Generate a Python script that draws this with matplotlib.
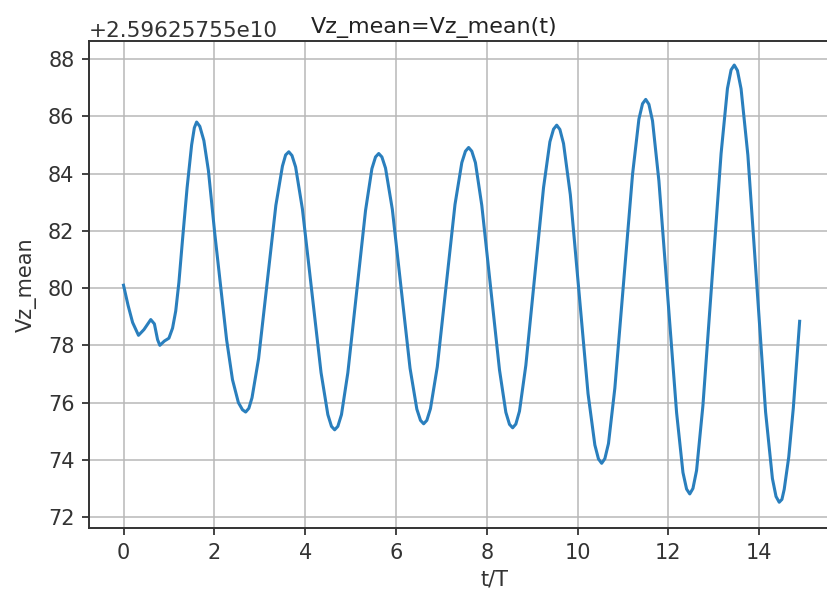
import matplotlib
matplotlib.use("Agg")
import matplotlib.pyplot as plt
from matplotlib.ticker import ScalarFormatter

OFFSET = 2.59625755e10

t_values = [
    0.00, 0.10, 0.20, 0.33, 0.45, 0.60, 0.68, 0.75, 0.80, 0.90, 1.00, 1.08, 1.15, 1.22, 1.30, 1.40, 1.50, 1.56, 1.61,
    1.68, 1.77, 1.87, 2.01, 2.15, 2.27, 2.40, 2.53, 2.62, 2.69,
    2.76, 2.83, 2.975, 3.165, 3.355, 3.50, 3.57, 3.64,
    3.71, 3.79, 3.94, 4.145, 4.35, 4.50, 4.58, 4.65,
    4.72, 4.80, 4.94, 5.135, 5.33, 5.47, 5.55, 5.62,
    5.69, 5.77, 5.92, 6.115, 6.31, 6.46, 6.54, 6.61,
    6.68, 6.76, 6.91, 7.105, 7.30, 7.45, 7.53, 7.60,
    7.67, 7.75, 7.89, 8.085, 8.28, 8.42, 8.50, 8.57,
    8.64, 8.72, 8.86, 9.055, 9.25, 9.39, 9.47, 9.54,
    9.61, 9.69, 9.84, 10.035, 10.23, 10.38, 10.46, 10.53,
    10.60, 10.68, 10.82, 11.015, 11.21, 11.35, 11.43, 11.50,
    11.57, 11.65, 11.79, 11.985, 12.18, 12.32, 12.40, 12.47,
    12.54, 12.62, 12.76, 12.96, 13.16, 13.30, 13.38, 13.45,
    13.52, 13.60, 13.75, 13.945, 14.14, 14.29, 14.37, 14.44,
    14.50, 14.55, 14.65, 14.75, 14.82, 14.89,
]

vz_values = [
    80.10, 79.40, 78.80, 78.35, 78.55, 78.90, 78.75, 78.20, 78.00, 78.15, 78.25, 78.60, 79.20, 80.20, 81.70, 83.50, 85.00, 85.60, 85.80,
    85.65, 85.15, 84.10, 81.90, 79.90, 78.20, 76.80, 76.00, 75.75, 75.67,
    75.80, 76.17, 77.54, 80.22, 82.89, 84.26, 84.65, 84.76,
    84.63, 84.23, 82.76, 79.90, 77.05, 75.58, 75.17, 75.05,
    75.17, 75.58, 77.04, 79.88, 82.71, 84.17, 84.58, 84.70,
    84.58, 84.19, 82.75, 79.98, 77.20, 75.77, 75.38, 75.26,
    75.38, 75.79, 77.25, 80.09, 82.92, 84.38, 84.78, 84.91,
    84.78, 84.38, 82.89, 80.02, 77.14, 75.66, 75.24, 75.12,
    75.25, 75.70, 77.30, 80.41, 83.51, 85.11, 85.55, 85.69,
    85.54, 85.05, 83.26, 79.79, 76.31, 74.52, 74.03, 73.88,
    74.04, 74.57, 76.50, 80.24, 83.97, 85.90, 86.44, 86.59,
    86.42, 85.84, 83.75, 79.70, 75.65, 73.56, 72.98, 72.81,
    73.00, 73.63, 75.90, 80.30, 84.70, 86.97, 87.62, 87.79,
    87.60, 86.96, 84.64, 80.16, 75.67, 73.35, 72.72, 72.52,
    72.62, 72.97, 74.10, 75.80, 77.30, 78.84,
]

x_ticks = [0, 2, 4, 6, 8, 10, 12, 14]
y_ticks = [72, 74, 76, 78, 80, 82, 84, 86, 88]

W, H = 827, 598
fig = plt.figure(figsize=(W / 100, H / 100), dpi=100)
left, right, top, bottom = 89, 900, 41, 528
ax = fig.add_axes([left / W, 1 - bottom / H, (right - left) / W, (bottom - top) / H])

y_abs = [OFFSET + v for v in vz_values]
ax.plot(t_values, y_abs, color="#2a7fbd", linewidth=2.2, solid_joinstyle="round")

ax.set_xlim(-0.76, 17.1)
ax.set_ylim(OFFSET + 71.62, OFFSET + 88.63)
ax.set_xticks(x_ticks)
ax.set_yticks([OFFSET + v for v in y_ticks])
fmt = ScalarFormatter(useOffset=OFFSET)
ax.yaxis.set_major_formatter(fmt)
ax.grid(True, color="#b8b8b8", linewidth=1.1)

fs = 15
ax.tick_params(labelsize=fs, width=1.2, length=5, pad=5.5, colors="#222222", labelcolor="#333333")
ax.yaxis.get_offset_text().set_fontsize(15.5)
ax.yaxis.get_offset_text().set_color("#333333")
for sp in ax.spines.values():
    sp.set_linewidth(1.4)
    sp.set_color("#333333")
ax.spines["right"].set_visible(False)

ax.set_xlabel("t/T", fontsize=fs, color="#333333", labelpad=5)
ax.set_ylabel("Vz_mean", fontsize=fs, color="#333333", labelpad=8)
ax.set_title("Vz_mean=Vz_mean(t)", fontsize=16, x=(434.5 - left) / (right - left), color="#222222")

fig.savefig("out.png", dpi=100)
